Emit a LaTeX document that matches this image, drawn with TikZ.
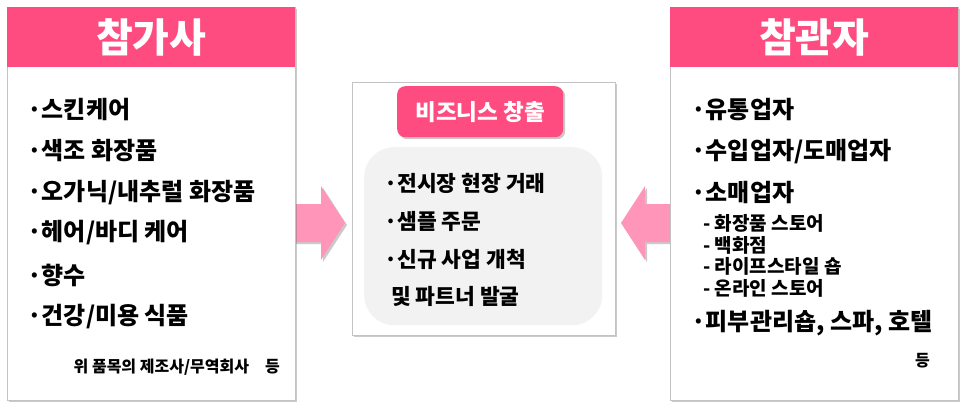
\documentclass[tikz,border=0pt]{standalone}
\usepackage{fontspec}
\setmainfont{Noto Sans CJK KR}
\usetikzlibrary{shadows}
\definecolor{hpink}{RGB}{255,76,128}
\definecolor{apink}{RGB}{255,150,185}
\definecolor{lgray}{RGB}{242,242,242}
\definecolor{bgray}{RGB}{195,195,195}
\tikzset{
  shad/.style={drop shadow={shadow xshift=2pt, shadow yshift=-2pt, opacity=0.35, fill=black!60}},
  panel/.style={draw=bgray, line width=0.8pt, fill=white, inner sep=0pt, anchor=north west, shad},
  header/.style={fill=hpink, inner sep=0pt, anchor=north west, text=white, font=\bfseries\fontsize{40}{44}\selectfont},
  item/.style={anchor=west, inner sep=0pt, font=\bfseries\fontsize{24}{28}\selectfont},
  mitem/.style={anchor=west, inner sep=0pt, font=\bfseries\fontsize{21.5}{25}\selectfont},
  subitem/.style={anchor=west, inner sep=0pt, font=\bfseries\fontsize{19}{22}\selectfont},
  note/.style={anchor=east, inner sep=0pt, font=\bfseries\fontsize{16}{19}\selectfont},
  blockarrow/.style={fill=apink, shad},
}
\begin{document}
\begin{tikzpicture}[x=1pt,y=-1pt]
\useasboundingbox (0,0) rectangle (966,408);
% block arrows (drawn first, under the panels)
\draw[blockarrow, draw=none] (293,204) -- (321,204) -- (321,186) -- (345,223) -- (321,260) -- (321,242) -- (293,242) -- cycle;
\draw[blockarrow, draw=none] (672,204) -- (645,204) -- (645,186) -- (621,223) -- (645,260) -- (645,242) -- (672,242) -- cycle;

% left panel
\node[panel, minimum width=288pt, minimum height=393pt] (lbox) at (7,7) {};
\node[header, minimum width=288pt, minimum height=60pt] (lhead) at (7,7) {참가사};
\node[item] (l1) at (27,110) {·스킨케어};
\node[item] (l2) at (27,151) {·색조 화장품};
\node[item] (l3) at (27,193) {·오가닉/내추럴 화장품};
\node[item] (l4) at (27,233) {·헤어/바디 케어};
\node[item] (l5) at (27,275) {·향수};
\node[item] (l6) at (27,317) {·건강/미용 식품};
\node[note] (l7) at (280,367) {위 품목의 제조사/무역회사\hspace{16pt}등};

% middle panel
\node[panel, minimum width=263pt, minimum height=253pt] (mbox) at (352,82) {};
\node[fill=hpink, rounded corners=8pt, inner sep=0pt, anchor=north west, minimum width=166pt, minimum height=51pt, text=white, font=\bfseries\fontsize{22.5}{26}\selectfont, shad] (mhead) at (397,86) {비즈니스 창출};
\node[fill=lgray, rounded corners=30pt, inner sep=0pt, anchor=north west, minimum width=238pt, minimum height=178pt] (mgray) at (364,147) {};
\node[mitem] (m1) at (384,183) {·전시장 현장 거래};
\node[mitem] (m2) at (384,221) {·샘플 주문};
\node[mitem] (m3) at (384,259) {·신규 사업 개척};
\node[mitem] (m4) at (384,296) {\hspace{7pt}및 파트너 발굴};

% right panel
\node[panel, minimum width=288pt, minimum height=393pt] (rbox) at (670,7) {};
\node[header, minimum width=288pt, minimum height=60pt] (rhead) at (670,7) {참관자};
\node[item] (r1) at (691,110) {·유통업자};
\node[item] (r2) at (691,152) {·수입업자/도매업자};
\node[item] (r3) at (691,193) {·소매업자};
\node[subitem] (r4) at (703,223) {- 화장품 스토어};
\node[subitem] (r5) at (703,245) {- 백화점};
\node[subitem] (r6) at (703,266) {- 라이프스타일 숍};
\node[subitem] (r7) at (703,288) {- 온라인 스토어};
\node[item] (r8) at (691,323) {·피부관리숍, 스파, 호텔};
\node[note] (r9) at (930,361) {등};
\end{tikzpicture}
\end{document}
